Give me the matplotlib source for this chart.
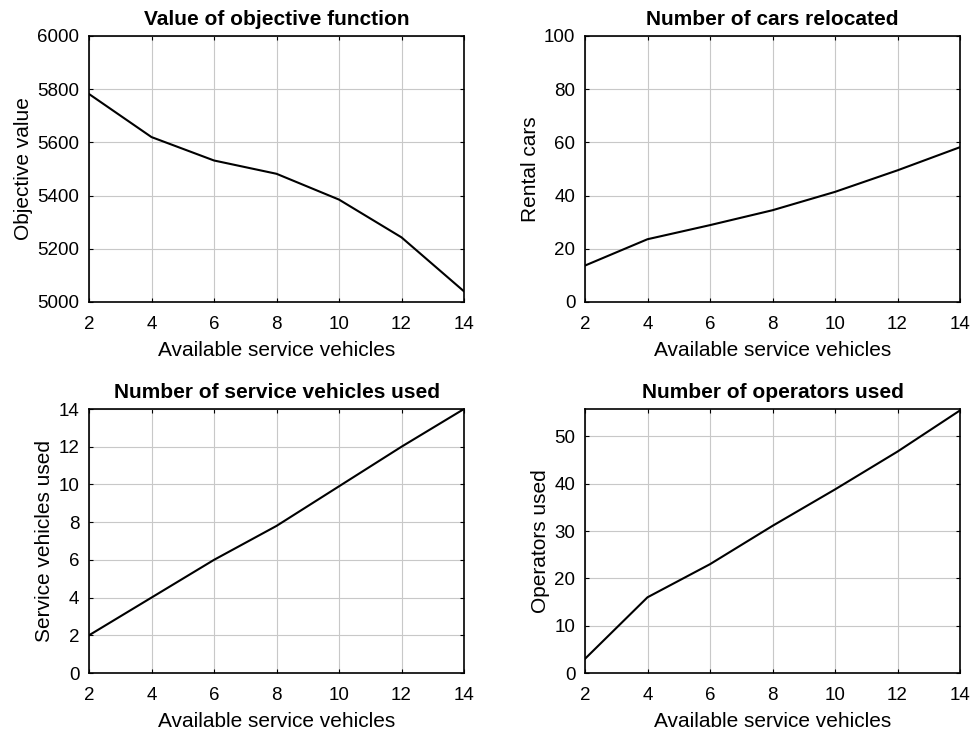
"""Four-panel sensitivity plot: effect of available service vehicles."""
import matplotlib

matplotlib.use("Agg")
import matplotlib.pyplot as plt

plt.rcParams.update(
    {
        "font.family": ["Liberation Sans", "DejaVu Sans"],
        "axes.linewidth": 1.2,
        "xtick.direction": "in",
        "ytick.direction": "in",
        "xtick.top": True,
        "ytick.right": True,
        "xtick.major.size": 3,
        "ytick.major.size": 3,
    }
)

available = [2, 4, 6, 8, 10, 12, 14]
objective_value = [5782, 5620, 5532, 5482, 5385, 5243, 5040]
rental_cars = [13.7, 23.6, 28.9, 34.5, 41.4, 49.5, 58.2]
vehicles_used = [2, 4, 6, 7.8, 9.9, 12.0, 14]
operators_used = [3, 16, 23, 31.1, 38.8, 46.8, 55.5]

titles = ["Value of objective function", "Number of cars relocated",
          "Number of service vehicles used", "Number of operators used"]
ylabels = ["Objective value", "Rental cars", "Service vehicles used",
           "Operators used"]
series = [objective_value, rental_cars, vehicles_used, operators_used]
ylims = [(5000, 6000), (0, 100), (0, 14), (0, 55.8)]
yticks = [range(5000, 6001, 200), range(0, 101, 20), range(0, 15, 2),
          range(0, 51, 10)]

W, H = 971, 733
boxes = [(89, 36, 464, 302), (585, 36, 960, 302),
         (89, 409, 464, 673), (585, 409, 960, 673)]

fig = plt.figure(figsize=(W / 100, H / 100), dpi=100)
for (x0, y0, x1, y1), title, ylab, ys, lim, yt in zip(
        boxes, titles, ylabels, series, ylims, yticks):
    ax = fig.add_axes([x0 / W, 1 - y1 / H, (x1 - x0) / W, (y1 - y0) / H])
    ax.plot(available, ys, color="black", lw=1.5)
    ax.set_xlim(2, 14)
    ax.set_ylim(*lim)
    ax.set_xticks(available)
    ax.set_yticks(list(yt))
    ax.grid(True, color="#c8c8c8", lw=0.8)
    ax.set_axisbelow(True)
    ax.tick_params(axis="y", labelsize=13.5, pad=7)
    ax.tick_params(axis="x", labelsize=13.5, pad=10)
    ax.set_title(title, fontsize=15, fontweight="bold", pad=8)
    ax.set_xlabel("Available service vehicles", fontsize=15, labelpad=6)
    ax.set_ylabel(ylab, fontsize=15, labelpad=3)

fig.savefig("out.png", dpi=100)
